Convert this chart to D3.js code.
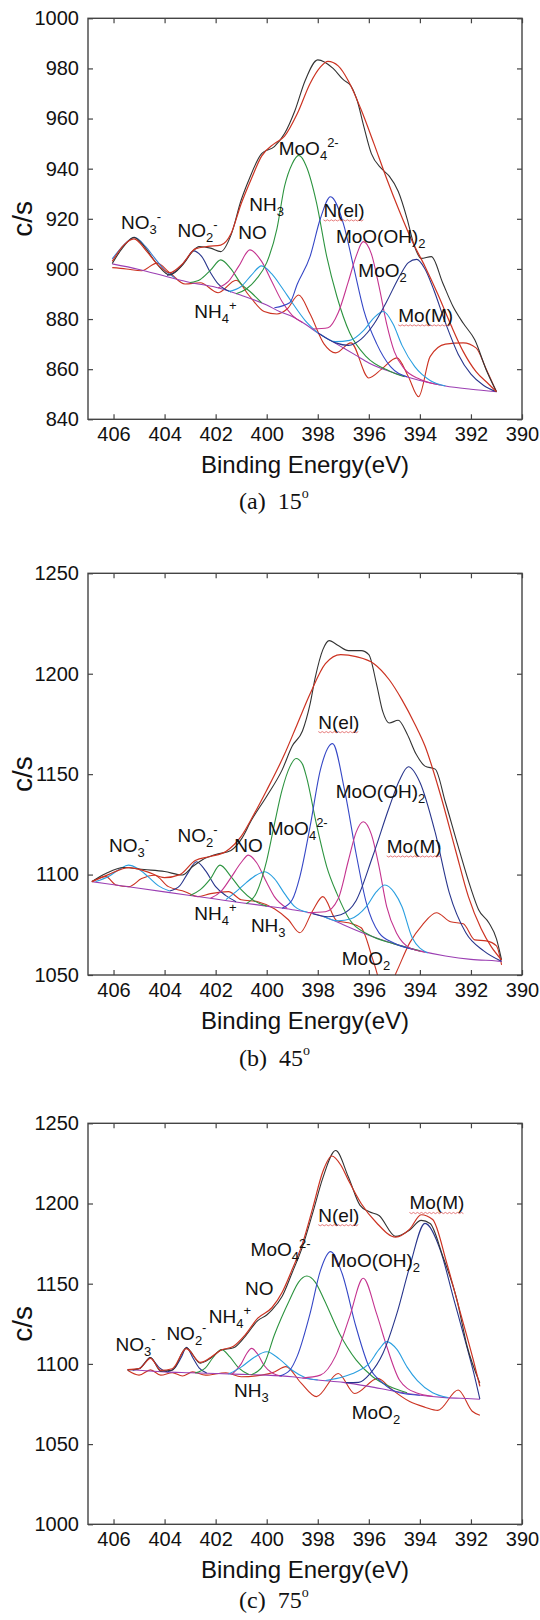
<!DOCTYPE html>
<html>
<head>
<meta charset="utf-8">
<script src="https://cdn.jsdelivr.net/npm/d3@7"></script>
<style>
body { margin: 0; background: #fff; }
svg { display: block; }
text { font-family: "Liberation Sans", Arial, sans-serif; fill: #111; }
</style>
</head>
<body>
<svg id="chart" width="540" height="1620"></svg>
<script>
// ---- tick values ----
var xTicks = [406, 404, 402, 400, 398, 396, 394, 392, 390];
var yTicksA = [840, 860, 880, 900, 920, 940, 960, 980, 1000];
var yTicksB = [1050, 1100, 1150, 1200, 1250];
var yTicksC = [1000, 1050, 1100, 1150, 1200, 1250];

// ---- (a) 15 deg : [binding energy eV, counts/s] ----
var a_base = [[406.05,902],[405,899.8],[404,897.2],[403,894.6],[402,892.7],[401,889.5],[400,885.6],[399.5,883],[399,881],[398.5,878],[398,874.5],[397.5,871.5],[397,868.5],[396.5,865.5],[396,862.5],[395,858.5],[394,855.5],[393,853.3],[392,852],[391,851]];
var a_raw = [[406.05,902.2],[405.6,909],[405.2,912.6],[404.8,909],[404.3,902],[403.8,897.6],[403.3,901.5],[402.9,907],[402.65,908.9],[402.2,908.3],[401.8,906.9],[401.4,913.5],[401.0,927.5],[400.7,935.5],[400.2,946],[399.7,948.8],[399.3,954],[398.9,963],[398.5,975],[398.0,983.4],[397.4,980],[397.0,975.5],[396.7,973],[396.45,967],[396.2,957],[395.9,946],[395.5,940],[395.2,937],[394.85,931],[394.5,920],[394.25,910.2],[393.95,904.2],[393.55,904.9],[393.1,894.3],[392.7,885],[392.3,878.3],[391.85,871.7],[391.4,859.7],[391.0,851]];
var a_fit = [[406.05,903],[405.6,909.5],[405.2,912],[404.7,907],[404.2,901],[403.8,898.5],[403.3,902],[402.8,908],[402.3,909],[401.8,909.5],[401.4,914],[401.0,926],[400.6,936],[400.2,945],[399.7,950],[399.3,953],[398.8,962],[398.3,974],[397.9,980.5],[397.6,982.8],[397.2,981],[396.8,975],[396.3,963.5],[395.8,950],[395.3,936],[394.8,923],[394.3,911],[393.8,901],[393.3,890],[392.8,878],[392.3,867],[391.8,859],[391.3,854],[391.0,851]];
var a_resid = [[406.05,900.5],[405.5,900],[404.9,899.3],[404.3,902.3],[403.8,898.5],[403.2,894],[402.6,894.5],[401.9,890.5],[401.2,895.5],[400.7,889.5],[400.1,883],[399.6,882],[399.2,884],[398.75,889.6],[398.3,882],[397.75,870],[397.3,866.5],[396.7,870.5],[396.0,856.5],[395.5,860],[394.9,864.5],[394.45,857],[394.05,849],[393.6,865],[393.0,870],[392.3,870.5],[391.8,868.5],[391.4,860],[391.0,851]];
var a_NO3 = [[406.05,904],[405.6,909.5],[405.18,912.6],[404.75,909],[404.4,904.5],[404.0,899.5],[403.6,896.5]];
var a_NO2 = [[403.9,897.4],[403.5,899.5],[403.15,903.8],[402.87,907.2],[402.55,905],[402.2,898.5],[401.9,894],[401.4,890.8]];
var a_NH4 = [[403.0,894.6],[402.6,895.8],[402.2,899.5],[401.8,903.6],[401.4,900],[401.0,894],[400.6,890.5],[400.2,886.5]];
var a_NO = [[401.9,892.4],[401.5,895],[401.1,901],[400.66,907.6],[400.2,903],[399.8,895],[399.4,887],[399.0,881.5],[398.6,878.6]];
var a_NH3 = [[401.5,891],[401.0,893],[400.6,897.5],[400.2,901.2],[399.8,898],[399.4,892.5],[399.0,886.5],[398.5,879.5],[398.0,874.5]];
var a_MoO4 = [[401.2,890.1],[400.8,892],[400.4,896],[400.0,902.5],[399.6,916],[399.3,933],[399.0,942],[398.74,945.3],[398.45,941],[398.05,926.5],[397.65,905],[397.25,889],[396.75,874.5],[396.1,865],[395.2,859.3],[394.6,857]];
var a_Nel = [[399.7,884.5],[399.1,886.5],[398.8,894],[398.3,905],[397.9,920],[397.5,928.8],[397.0,918.2],[396.6,901],[396.2,883.6],[395.7,870.3],[395.15,861],[394.5,857]];
var a_MoOOH = [[398.2,876],[397.6,876.5],[397.2,882.5],[396.8,895],[396.5,905],[396.22,910.9],[395.9,906],[395.6,893],[395.3,878],[395.0,867],[394.6,860],[394.0,856],[393.2,853.7]];
var a_MoO2 = [[397.9,874],[397.3,871],[396.75,871.5],[396.2,875.5],[395.8,880.5],[395.43,883],[395.05,878],[394.7,869.5],[394.2,861],[393.6,855.5],[393.0,853.3]];
var a_MoM = [[398.0,874.5],[397.3,870.5],[396.8,869.5],[396.3,872],[395.8,878],[395.3,887],[394.8,897],[394.45,902.5],[394.13,903.8],[393.8,900],[393.45,891.5],[393.0,878.5],[392.5,866],[392.0,858],[391.5,853.5],[391.0,851]];

// ---- (b) 45 deg ----
var b_base = [[406.85,1096.5],[405,1093.2],[404,1091.4],[403,1089.6],[402,1087.8],[401,1086],[400,1084.3],[399,1082.5],[398,1080],[397.5,1077.8],[397,1075],[396.5,1072.3],[396,1069.8],[395,1065.5],[394,1062],[393,1059.5],[392,1057.8],[391,1057],[390.8,1056.8]];
var b_raw = [[406.85,1096.5],[406.3,1100.5],[405.6,1103.5],[404.8,1102.5],[404.0,1101.5],[403.3,1099.8],[402.9,1104],[402.5,1107.5],[402.0,1110],[401.4,1112],[401.0,1117.5],[400.6,1127],[400.0,1139],[399.4,1152],[399.0,1164],[398.6,1171.5],[398.3,1185],[398.1,1198],[397.8,1212],[397.55,1216.5],[397.2,1214],[396.8,1211.5],[396.3,1211.5],[396.0,1209.5],[395.7,1195],[395.45,1181],[395.2,1175.5],[394.85,1176.8],[394.5,1170],[394.15,1160],[393.8,1154],[393.4,1152.5],[393.0,1136],[392.5,1114],[392.0,1093],[391.7,1082.5],[391.3,1076],[391.0,1068],[390.8,1057.5]];
var b_fit = [[406.85,1096.5],[406.2,1100],[405.4,1103.5],[404.7,1101.5],[404.0,1098.5],[403.4,1100],[402.8,1107],[402.2,1109],[401.6,1111.5],[401.0,1119],[400.5,1130],[400.0,1142],[399.3,1160],[398.8,1175],[398.3,1190],[397.7,1205],[397.1,1209.5],[396.5,1208.5],[395.8,1205],[395.2,1197],[394.7,1187],[394.2,1175],[393.8,1164],[393.2,1140],[392.6,1112],[392.1,1089],[391.6,1073],[391.2,1064],[390.8,1057.5]];
var b_resid = [[406.85,1096.5],[406.3,1099],[405.9,1094.8],[405.4,1094],[404.9,1098],[404.4,1099.7],[403.85,1094],[403.2,1091.5],[402.7,1089],[402.2,1090.5],[401.5,1091.5],[401.0,1087.5],[400.35,1086.5],[399.7,1083],[399.15,1077.5],[398.7,1071],[398.2,1082],[397.8,1089],[397.25,1077],[396.8,1076],[396.3,1073.5],[395.8,1056],[395.35,1040],[394.9,1052],[394.4,1066],[393.9,1075],[393.35,1081],[392.8,1076.5],[392.3,1075.5],[391.85,1067.5],[391.4,1067],[391.0,1064.5],[390.8,1055]];
var b_NO3 = [[406.7,1096.5],[406.2,1099],[405.75,1102.8],[405.42,1104.7],[405.05,1103],[404.65,1099],[404.25,1094.5],[403.8,1091.8]];
var b_NO2 = [[403.8,1091.8],[403.4,1094.5],[403.1,1100.5],[402.75,1106.4],[402.4,1102],[402.0,1094],[401.6,1089.5],[401.2,1086.5]];
var b_NH4 = [[403.0,1089.6],[402.6,1092.5],[402.2,1098],[401.83,1104.7],[401.4,1099],[401.0,1092.5],[400.5,1087],[400.0,1084.3]];
var b_NO = [[402.2,1088.2],[401.8,1091.5],[401.4,1098.5],[401.0,1106],[400.72,1109.7],[400.4,1106],[400.0,1096],[399.7,1089],[399.2,1083.2]];
var b_NH3 = [[401.6,1087.5],[401.2,1091.5],[400.8,1096],[400.4,1099.8],[400.07,1101.4],[399.7,1098],[399.3,1090.5],[398.9,1084],[398.4,1081.2]];
var b_MoO4 = [[400.8,1085.5],[400.4,1091],[400.0,1107],[399.7,1125],[399.4,1142],[399.1,1153.5],[398.85,1157.8],[398.6,1155],[398.45,1149],[398.05,1125],[397.65,1104],[397.25,1090.5],[396.75,1077.5],[396.0,1070],[395.0,1065.5],[394.0,1062]];
var b_Nel = [[399.4,1083.2],[399.0,1087.5],[398.7,1099],[398.3,1124],[397.9,1152],[397.42,1165.2],[396.95,1142],[396.5,1110.5],[396.1,1086],[395.6,1071],[395.0,1065.8],[394.2,1062.6]];
var b_MoOOH = [[398.4,1081],[397.7,1081.5],[397.2,1088],[396.8,1107],[396.5,1121],[396.22,1126.3],[395.9,1120],[395.6,1104],[395.3,1084],[394.9,1070.5],[394.4,1063.5],[393.8,1061.4]];
var b_MoO2 = [[397.8,1079.3],[397.2,1077],[396.7,1078],[396.1,1084],[395.7,1091.5],[395.37,1094.8],[395.0,1091],[394.7,1084],[394.3,1068.5],[393.7,1061]];
var b_MoM = [[398.2,1080.5],[397.6,1079],[397.1,1080],[396.5,1087],[395.85,1109],[395.2,1133.5],[394.8,1147],[394.45,1153.7],[394.0,1146],[393.4,1121],[392.85,1091],[392.2,1071],[391.5,1062],[390.8,1056.8]];

// ---- (c) 75 deg ----
var c_base = [[405.45,1096.5],[404,1095],[403,1094.5],[402,1094],[401,1093.5],[400,1093],[399,1092],[398,1090],[397,1088.5],[396,1086],[395,1083],[394,1080.5],[393,1079],[392,1078.3],[391.65,1078]];
var c_raw = [[405.45,1096.3],[405.0,1097],[404.55,1104],[404.15,1095.5],[403.7,1096],[403.15,1110],[402.6,1100.5],[402.2,1103.5],[401.8,1108.5],[401.3,1110],[400.85,1117],[400.35,1127],[400.0,1130.5],[399.8,1133.5],[399.4,1142],[399.0,1157],[398.6,1173],[398.2,1194],[397.8,1216],[397.3,1233],[396.8,1216.5],[396.35,1199],[396.0,1195],[395.6,1192.5],[394.95,1179.5],[394.4,1183.5],[393.95,1189.5],[393.6,1187.5],[393.1,1167],[392.55,1140],[392.15,1111],[391.65,1088]];
var c_fit = [[405.45,1096.5],[405.0,1097],[404.55,1103.5],[404.15,1096],[403.7,1097],[403.15,1109.5],[402.6,1101],[402.2,1104],[401.8,1108.5],[401.3,1111],[400.85,1118],[400.35,1128.5],[399.8,1135],[399.4,1144.5],[399.0,1159],[398.6,1175],[398.2,1197],[397.8,1220],[397.45,1229.6],[397.1,1224],[396.8,1214.5],[396.3,1200],[395.7,1188],[394.95,1179],[394.4,1184],[393.95,1193],[393.5,1190],[392.95,1163],[392.45,1134],[391.9,1102],[391.65,1086]];
var c_resid = [[405.45,1096],[405.0,1093],[404.55,1096.3],[404.15,1093],[403.7,1094.5],[403.3,1092.5],[402.9,1095],[402.4,1093],[401.6,1094.5],[401.0,1092],[400.2,1093],[399.7,1095],[399.25,1098.3],[398.65,1088],[398.05,1079.6],[397.2,1094],[396.55,1081.5],[395.65,1091],[395.1,1084],[394.4,1076.5],[393.8,1073],[393.3,1071],[392.5,1083.7],[391.95,1070.5],[391.65,1068]];
var c_NO3 = [[405.25,1096.1],[404.95,1097.5],[404.75,1101],[404.57,1104],[404.38,1101],[404.2,1097.5],[403.9,1095.1]];
var c_NO2 = [[403.9,1095],[403.6,1097.5],[403.35,1104],[403.14,1110.3],[402.9,1104],[402.65,1097.5],[402.35,1094.3]];
var c_NH4 = [[402.8,1094.4],[402.4,1097.5],[402.1,1104],[401.77,1109],[401.45,1104.5],[401.1,1097.5],[400.7,1093.4]];
var c_NO = [[401.35,1093.7],[401.0,1100],[400.8,1106],[400.59,1109.7],[400.35,1106],[400.1,1099],[399.8,1094.5],[399.4,1092.4]];
var c_NH3 = [[401.5,1093.7],[401.0,1098],[400.5,1104],[400.0,1107.6],[399.5,1103],[399.0,1096],[398.5,1091.5],[398.0,1090]];
var c_MoO4 = [[400.6,1093.3],[400.1,1100],[399.7,1118],[399.1,1140],[398.75,1151],[398.43,1154.8],[398.1,1151],[397.75,1140],[397.15,1119],[396.5,1102.5],[395.85,1092],[395.2,1086],[394.5,1082]];
var c_Nel = [[399.5,1092.5],[399.1,1096],[398.8,1105],[398.3,1131.5],[397.9,1158],[397.5,1170],[397.05,1156.5],[396.5,1123],[396.0,1098.5],[395.45,1088],[394.8,1082],[394.0,1080.5]];
var c_MoOOH = [[398.6,1091.2],[397.9,1093],[397.3,1105],[396.75,1129.5],[396.22,1153.4],[395.7,1131.5],[395.3,1111],[394.8,1090],[394.15,1082],[393.5,1079.8]];
var c_MoO2 = [[397.7,1089.6],[397.0,1092],[396.5,1095],[396.0,1100],[395.6,1109],[395.3,1113.9],[394.9,1109],[394.5,1098],[394.1,1089.5],[393.5,1082],[392.9,1079]];
var c_MoM = [[396.9,1088.3],[396.4,1088.5],[395.95,1094],[395.45,1106.5],[394.9,1131.5],[394.4,1160.5],[393.8,1187.6],[393.2,1171],[392.7,1142],[392.2,1113],[391.9,1095],[391.65,1078]];

// ---- label text pieces (sub / sup) ----
var T_NO3 = [["NO"], ["3", "sub"], ["-", "sup"]];
var T_NO2 = [["NO"], ["2", "sub"], ["-", "sup"]];
var T_NH4 = [["NH"], ["4", "sub"], ["+", "sup"]];
var T_NO = [["NO"]];
var T_NH3 = [["NH"], ["3", "sub"]];
var T_MoO4 = [["MoO"], ["4", "sub"], ["2-", "sup"]];
var T_Nel = [["N(el)"]];
var T_MoOOH = [["MoO(OH)"], ["2", "sub"]];
var T_MoO2 = [["MoO"], ["2", "sub"]];
var T_MoM = [["Mo(M)"]];

// ---- colours ----
var NAVY = "#28358c", BLUE = "#3547c6", LBLUE = "#2a9fe0", STEEL = "#3b7bd0",
    GREEN = "#2d9440", MAGENTA = "#c4338f", RED = "#cc3322", BASE = "#9b3fb3";

var svg = d3.select("#chart");
svg.append("rect").attr("width", 540).attr("height", 1620).attr("fill", "#fff");

var x = d3.scaleLinear().domain([407, 390]).range([88, 522]);

var panels = [
  { id: "a", top: 18.3, bottom: 419.3, domain: [840, 1000], ticks: yTicksA, cap: "(a)", angle: "15", capDy: 90,
    base: a_base, raw: a_raw, fit: a_fit, resid: a_resid,
    comps: [[a_NO3, STEEL], [a_NO2, NAVY], [a_NH4, GREEN], [a_NO, MAGENTA], [a_NH3, LBLUE], [a_MoO4, GREEN], [a_Nel, BLUE], [a_MoOOH, MAGENTA], [a_MoO2, LBLUE], [a_MoM, NAVY]],
    labels: [[T_NO3, 405.71, 915.8], [T_NO2, 403.49, 912.6], [T_NO, 401.11, 911.8], [T_NH3, 400.68, 923.2], [T_NH4, 402.84, 880.3],
             [T_MoO4, 399.53, 945.5], [T_Nel, 397.78, 920.8, 1], [T_MoOOH, 397.29, 910.5], [T_MoO2, 396.41, 896.9], [T_MoM, 394.85, 878.9, 1]] },
  { id: "b", top: 573.3, bottom: 975, domain: [1050, 1250], ticks: yTicksB, cap: "(b)", angle: "45", capDy: 91,
    base: b_base, raw: b_raw, fit: b_fit, resid: b_resid,
    comps: [[b_NO3, LBLUE], [b_NO2, NAVY], [b_NH4, GREEN], [b_NO, MAGENTA], [b_NH3, LBLUE], [b_MoO4, GREEN], [b_Nel, BLUE], [b_MoOOH, MAGENTA], [b_MoO2, LBLUE], [b_MoM, NAVY]],
    labels: [[T_NO3, 406.18, 1111.0], [T_NO2, 403.49, 1116.3], [T_NO, 401.27, 1111.0], [T_NH4, 402.84, 1077.4], [T_NH3, 400.62, 1071.5],
             [T_MoO4, 399.96, 1119.7], [T_Nel, 397.98, 1172.7, 1], [T_MoOOH, 397.3, 1137.9], [T_MoM, 395.3, 1110.8, 1], [T_MoO2, 397.06, 1055.0]] },
  { id: "c", top: 1123.3, bottom: 1524.3, domain: [1000, 1250], ticks: yTicksC, cap: "(c)", angle: "75", capDy: 84,
    base: c_base, raw: c_raw, fit: c_fit, resid: c_resid,
    comps: [[c_NO3, NAVY], [c_NO2, NAVY], [c_NH4, GREEN], [c_NO, MAGENTA], [c_NH3, LBLUE], [c_MoO4, GREEN], [c_Nel, BLUE], [c_MoOOH, MAGENTA], [c_MoO2, LBLUE], [c_MoM, NAVY]],
    labels: [[T_NO3, 405.92, 1108.0], [T_NO2, 403.93, 1114.9], [T_NH4, 402.27, 1125.5], [T_NO, 400.85, 1143.0], [T_NH3, 401.28, 1079.6],
             [T_MoO4, 400.63, 1167.3], [T_Nel, 397.98, 1188.7, 1], [T_MoOOH, 397.5, 1160.6], [T_MoM, 394.41, 1196.3, 1], [T_MoO2, 396.67, 1065.6]] }
];

function drawLabel(g, px, py, segs, squiggle) {
  var t = g.append("text").attr("x", px).attr("y", py).attr("font-size", 19);
  var shift = 0;
  segs.forEach(function(s) {
    var target = s[1] === "sub" ? 5 : s[1] === "sup" ? -8 : 0;
    t.append("tspan").attr("dy", target - shift).attr("font-size", s[1] ? 13 : 19).text(s[0]);
    shift = target;
  });
  if (squiggle) {
    var w = t.node().getComputedTextLength();
    var pts = d3.range(0, Math.floor(w / 2) + 1).map(function(i) {
      return [px + i * 2, py + 3 + (i % 2 ? 1.2 : 0)];
    });
    g.append("path").attr("d", d3.line()(pts)).attr("fill", "none")
      .attr("stroke", "#e05a5a").attr("stroke-width", 0.8);
  }
}

function drawPanel(p) {
  var y = d3.scaleLinear().domain(p.domain).range([p.bottom, p.top]);
  var g = svg.append("g");

  g.append("clipPath").attr("id", "clip-" + p.id).append("rect")
    .attr("x", x(407)).attr("y", p.top).attr("width", x(390) - x(407)).attr("height", p.bottom - p.top);
  var plot = g.append("g").attr("clip-path", "url(#clip-" + p.id + ")");

  var line = d3.line().x(function(d) { return x(d[0]); }).y(function(d) { return y(d[1]); })
    .curve(d3.curveMonotoneX);

  function curve(data, color, width) {
    plot.append("path").datum(data).attr("d", line).attr("fill", "none")
      .attr("stroke", color).attr("stroke-width", width || 1.1).attr("stroke-linejoin", "round");
  }

  curve(p.resid, RED);
  curve(p.base, BASE);
  p.comps.forEach(function(c) { curve(c[0], c[1]); });
  curve(p.raw, "#333", 1.1);
  curve(p.fit, RED, 1.2);

  // frame + inward ticks
  function style(ax) {
    ax.select(".domain").remove();
    ax.selectAll(".tick line").attr("stroke", "#444").attr("stroke-width", 1.2);
    ax.selectAll("text").attr("font-size", 20).attr("font-family", "Liberation Sans, Arial, sans-serif").attr("fill", "#111");
  }
  var fmt = d3.format("d");
  g.append("g").attr("transform", "translate(" + x(407) + ",0)")
    .call(d3.axisLeft(y).tickValues(p.ticks).tickFormat(fmt).tickSizeInner(-5).tickSizeOuter(0).tickPadding(9)).call(style);
  g.append("g").attr("transform", "translate(" + x(390) + ",0)")
    .call(d3.axisRight(y).tickValues(p.ticks).tickSizeInner(-5).tickSizeOuter(0).tickFormat("")).call(style);
  g.append("g").attr("transform", "translate(0," + p.bottom + ")")
    .call(d3.axisBottom(x).tickValues(xTicks).tickFormat(fmt).tickSizeInner(-5).tickSizeOuter(0).tickPadding(8)).call(style);
  g.append("g").attr("transform", "translate(0," + p.top + ")")
    .call(d3.axisTop(x).tickValues(xTicks).tickSizeInner(-5).tickSizeOuter(0).tickFormat("")).call(style);
  g.append("rect").attr("x", x(407)).attr("y", p.top).attr("width", x(390) - x(407)).attr("height", p.bottom - p.top)
    .attr("fill", "none").attr("stroke", "#444").attr("stroke-width", 1.4);

  // peak labels
  p.labels.forEach(function(l) { drawLabel(g, x(l[1]), y(l[2]), l[0], l[3]); });

  // axis titles
  g.append("text").attr("transform", "translate(32," + ((p.top + p.bottom) / 2) + ") rotate(-90)")
    .attr("text-anchor", "middle").attr("font-size", 28).text("c/s");
  g.append("text").attr("x", (x(407) + x(390)) / 2).attr("y", p.bottom + 54)
    .attr("text-anchor", "middle").attr("font-size", 24).text("Binding Energy(eV)");

  // caption
  var cap = g.append("text").attr("x", 239).attr("y", p.bottom + p.capDy)
    .style("font-family", "'Liberation Serif', 'Times New Roman', serif").attr("font-size", 24);
  cap.append("tspan").text(p.cap);
  cap.append("tspan").attr("dx", 12).text(p.angle);
  cap.append("tspan").attr("dy", -11).attr("font-size", 14).text("o");
}

panels.forEach(drawPanel);
</script>
</body>
</html>
